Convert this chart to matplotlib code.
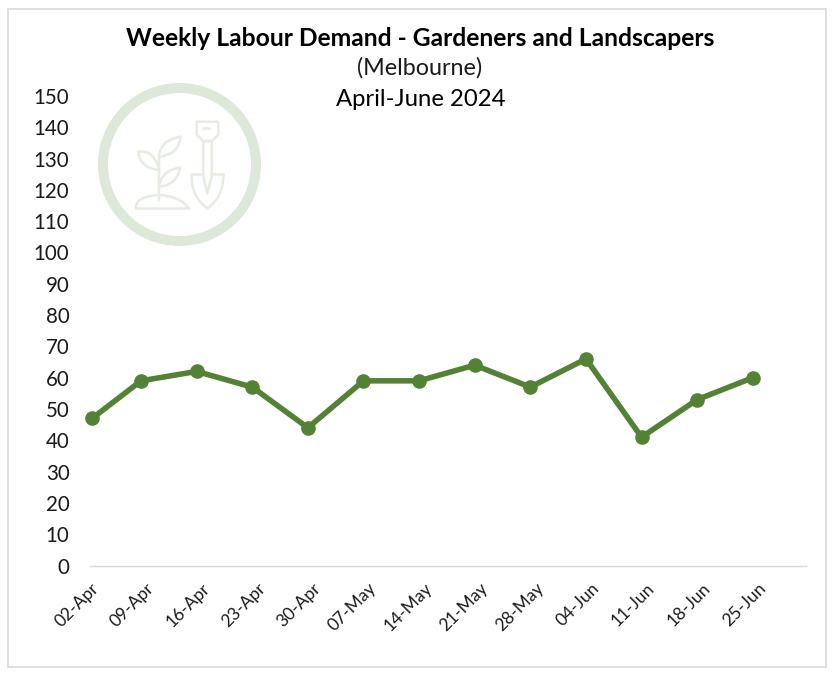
import matplotlib
matplotlib.use("Agg")
import matplotlib.pyplot as plt
from matplotlib.patches import Circle, Polygon, PathPatch, Rectangle
from matplotlib.path import Path

weeks = ["02-Apr", "09-Apr", "16-Apr", "23-Apr", "30-Apr", "07-May", "14-May",
         "21-May", "28-May", "04-Jun", "11-Jun", "18-Jun", "25-Jun"]
demand = [47, 59, 62, 57, 44, 59, 59, 64, 57, 66, 41, 53, 60]
point_pos = [0.12, 1, 2, 3, 4, 5, 6, 7, 8, 9, 10, 11, 12]
yticks = list(range(0, 151, 10))
title = "Weekly Labour Demand - Gardeners and Landscapers"
subtitle = "(Melbourne)"
period = "April-June 2024"

W, H = 837, 678
plt.rcParams["font.family"] = ["Lato", "DejaVu Sans"]
fig = plt.figure(figsize=(W / 100, H / 100), dpi=100, facecolor="white")

bg = fig.add_axes([0, 0, 1, 1], zorder=0)
bg.set_xlim(0, W)
bg.set_ylim(H, 0)
bg.axis("off")
bg.add_patch(Rectangle((8.5, 8.5), 818, 658, fill=False, ec="#D9D9D9", lw=1.2))

ICON = "#E6ECE2"
RING = "#DDE8D8"
def zp(pts):
    return [(90 + x / 3, 75 + y / 3) for x, y in pts]
def curve(pts, lw=1.8):
    p = zp(pts)
    codes = [Path.MOVETO] + [Path.CURVE3] * (len(p) - 1)
    bg.add_patch(PathPatch(Path(p, codes), fill=False, ec=ICON, lw=lw, capstyle="round"))
def seg(pts, lw=1.8):
    bg.plot(*zip(*zp(pts)), color=ICON, lw=lw, solid_capstyle="round")
def poly(pts, lw=1.8):
    bg.add_patch(Polygon(zp(pts), closed=True, fill=False, ec=ICON, lw=lw, joinstyle="round"))

bg.add_patch(Circle((179.5, 164.5), 76.5, fill=False, ec=RING, lw=7.2))
poly([(320, 140), (385, 140), (385, 180), (365, 198), (340, 198), (320, 180)])
seg([(340, 158), (358, 158)])
poly([(340, 198), (340, 305), (352, 355), (365, 305), (365, 198)])
seg([(340, 298), (305, 298)])
seg([(365, 298), (400, 298)])
curve([(305, 298), (303, 365), (352, 400)])
curve([(400, 298), (402, 365), (352, 400)])
curve([(207, 375), (207, 300), (207, 240)])
curve([(207, 245), (210, 195), (272, 185)])
curve([(272, 185), (265, 240), (207, 245)])
curve([(207, 285), (195, 225), (145, 230)])
curve([(145, 230), (150, 280), (207, 285)])
curve([(207, 335), (215, 285), (270, 278)])
curve([(270, 278), (262, 330), (207, 335)])
curve([(138, 400), (135, 365), (205, 360)])
curve([(205, 360), (270, 362), (297, 400)])
seg([(138, 400), (297, 400)])

left, right, top, bottom = 85.4, 806, 96, 565.5
ax = fig.add_axes([left / W, 1 - bottom / H, (right - left) / W, (bottom - top) / H], zorder=1)
ax.patch.set_alpha(0)
ax.plot(point_pos, demand, color="#548235", lw=4, marker="o", ms=9.5, solid_capstyle="round", clip_on=False)
ax.set_xlim(0, 12.956)
ax.set_ylim(0, 150)
ax.set_yticks(yticks)
ax.set_yticklabels([str(v) for v in yticks], fontsize=14.8, color="#1a1a1a")
ax.set_xticks(range(len(weeks)))
ax.set_xticklabels([])
for i, wk in enumerate(weeks):
    ax.annotate(wk, xy=(i, 0), xycoords=("data", "axes fraction"), xytext=(7.6, -14.8),
                textcoords="offset points", rotation=45, ha="right", va="center",
                rotation_mode="anchor", fontsize=12.5, color="#1a1a1a", annotation_clip=False)
ax.tick_params(axis="both", length=0)
ax.tick_params(axis="y", pad=11.5)
for s in ("top", "left", "right"):
    ax.spines[s].set_visible(False)
ax.spines["bottom"].set_color("#D9D9D9")
ax.spines["bottom"].set_linewidth(1)
ax.spines["bottom"].set_bounds(0.083, 12.956)

fig.text(420.5 / W, 1 - 38.5 / H, title, ha="center", va="center", fontsize=17.7, fontweight="bold", color="black")
fig.text(420 / W, 1 - 68 / H, subtitle, ha="center", va="center", fontsize=16.8, color="#1a1a1a")
fig.text(420.5 / W, 1 - 100 / H, period, ha="center", va="center", fontsize=17.2, color="black")

fig.savefig("out.png", dpi=100, facecolor="white")
